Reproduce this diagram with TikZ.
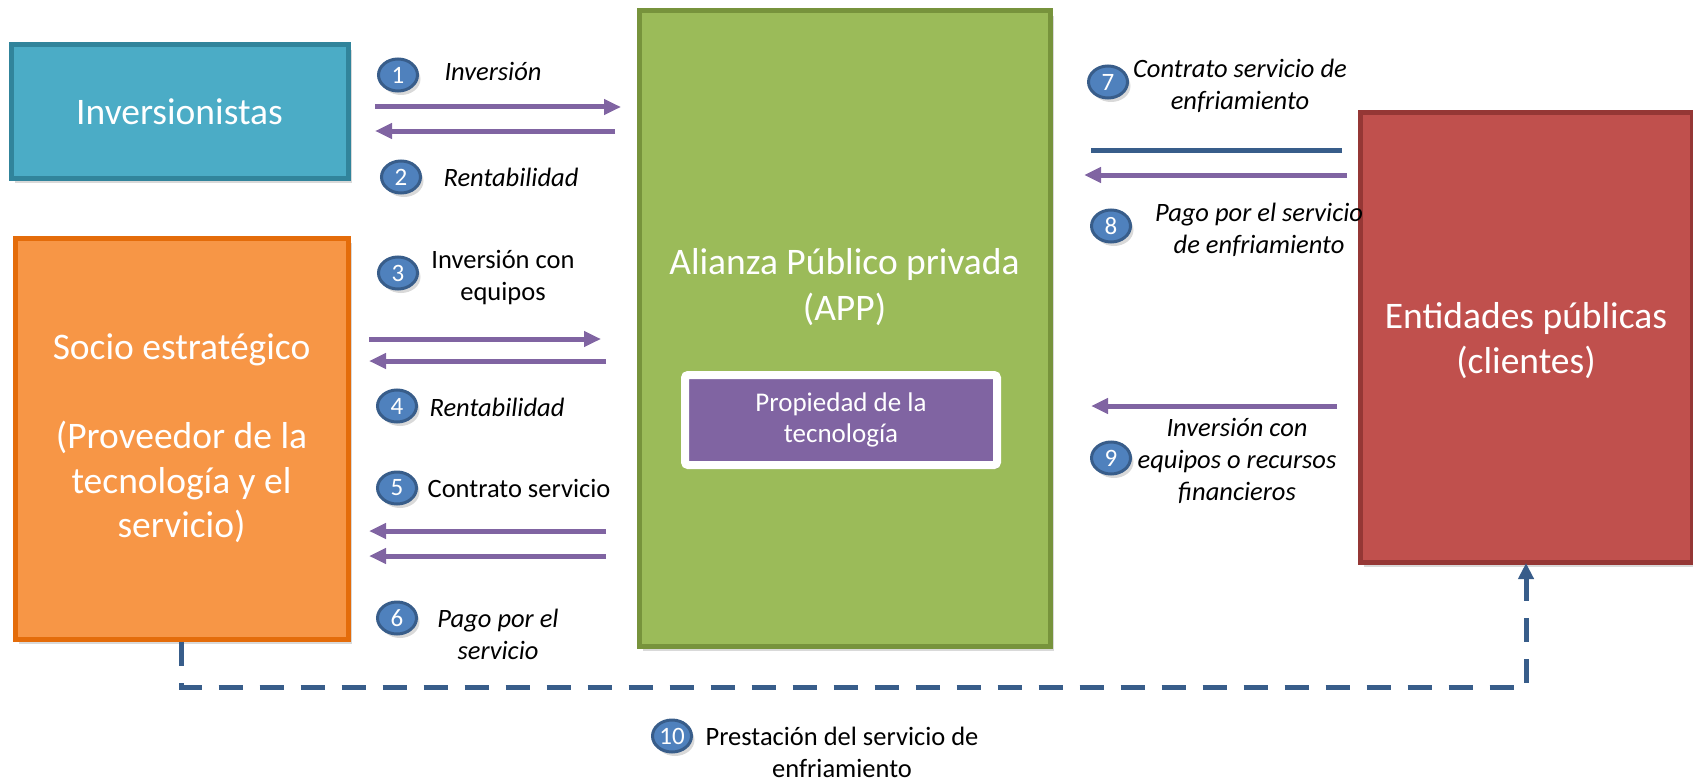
\documentclass[tikz,border=0pt]{standalone}
\usepackage{fontspec}
\setmainfont{Carlito}
\usetikzlibrary{arrows.meta,positioning,shapes.geometric,shadows}

\definecolor{invfill}{HTML}{4BACC6}
\definecolor{invline}{HTML}{31849B}
\definecolor{socfill}{HTML}{F79646}
\definecolor{socline}{HTML}{E46C0A}
\definecolor{appfill}{HTML}{9BBB59}
\definecolor{appline}{HTML}{77933C}
\definecolor{entfill}{HTML}{C0504D}
\definecolor{entline}{HTML}{953735}
\definecolor{techfill}{HTML}{8064A2}
\definecolor{numfill}{HTML}{4F81BD}
\definecolor{numline}{HTML}{385D8A}

\begin{document}
\begin{tikzpicture}[x=1pt,y=-1pt,
		main node/.style={rectangle,draw,line width=5pt,outer sep=0pt,text=white,align=center,
			font=\fontsize{37.5}{44.5}\selectfont,
			drop shadow={opacity=.3,shadow xshift=4pt,shadow yshift=-5pt}},
		big node/.style={text=white,align=center,font=\fontsize{37.5}{46.5}\selectfont},
		tech node/.style={rectangle,fill=techfill,draw=white,line width=8pt,rounded corners=3pt,
			text=white,align=center,font=\fontsize{27}{31}\selectfont,
			drop shadow={opacity=.3,shadow xshift=3pt,shadow yshift=-4pt}},
		num node/.style={ellipse,fill=numfill,draw=numline,line width=3pt,inner sep=0pt,
			minimum width=39pt,minimum height=32pt,text=white,font=\fontsize{25}{25}\selectfont,
			drop shadow={opacity=.3,shadow xshift=3pt,shadow yshift=-4pt}},
		lbl node/.style={align=center,font=\fontsize{26.5}{32}\selectfont},
		ital node/.style={align=center,font=\fontsize{26.5}{32}\selectfont\itshape},
		flow/.style={draw=techfill,line width=5pt,-{Triangle[length=17pt,width=15pt]}},
		plain flow/.style={draw=numline,line width=5pt},
		dash flow/.style={draw=numline,line width=5pt,dash pattern=on 24pt off 17pt,
			-{Triangle[length=16pt,width=15pt]}}]
	\useasboundingbox (0,0) rectangle (1693,781);
	\node[main node,fill=invfill,draw=invline,minimum width=337pt,minimum height=133pt] (0) at (179.5,111.5) {Inversionistas};
	\node[main node,fill=socfill,draw=socline,minimum width=333pt,minimum height=401pt] (1) [below=60pt of 0,xshift=2pt]
		{Socio estratégico\\[44.5pt](Proveedor de la\\tecnología y el\\servicio)};
	\node[main node,fill=appfill,draw=appline,minimum width=411pt,minimum height=635pt] (2) at (844.5,328.5) {};
	\node[main node,fill=entfill,draw=entline,minimum width=332pt,minimum height=449pt] (3) at (1526,337.5)
		{\\[-12pt]Entidades públicas\\(clientes)};
	\node[big node] (5) at (844.5,287) {Alianza Público privada\\(APP)};
	\node[tech node,minimum width=312pt,minimum height=90pt] (4) at (841,420) {Propiedad de la\\tecnología};
	%
	% Numbers and texts of the flows.
	\node[num node] (201) at (398,75) {1};
	\node[ital node] (101) at (493,71) {Inversión};
	\node[num node] (202) at (401,177) {2};
	\node[ital node] (102) at (511,177) {Rentabilidad};
	\node[num node] (203) at (398,273) {3};
	\node[lbl node] (103) at (503,278) {Inversión con\\equipos};
	\node[num node] (204) at (397,406) {4};
	\node[ital node] (104) at (497,407) {Rentabilidad};
	\node[num node] (205) at (397,488) {5};
	\node[lbl node] (105) at (519,488) {Contrato servicio};
	\node[num node] (206) at (397,618) {6};
	\node[ital node] (106) at (498,634) {Pago por el\\servicio};
	\node[num node] (207) at (1108,82) {7};
	\node[ital node] (107) at (1240,86) {Contrato servicio de\\enfriamiento};
	\node[num node] (208) at (1111,226) {8};
	\node[ital node] (108) at (1259,230) {Pago por el servicio\\de enfriamiento};
	\node[num node] (209) at (1111,458) {9};
	\node[ital node] (109) at (1237,461) {Inversión con\\equipos o recursos\\financieros};
	\node[num node] (210) at (672,736) {10};
	\node[lbl node] (110) at (842,752) {Prestación del servicio de\\enfriamiento};
	%
	% Flows between the investors and the APP.
	\draw[flow,shorten <=27pt,shorten >=18pt] ([yshift=4.5pt]0.east) -- ([yshift=4.5pt]0.east -| 2.west);
	\draw[flow,shorten <=24pt,shorten >=27pt] ([yshift=-19.5pt]0.east -| 2.west) -- ([yshift=-19.5pt]0.east);
	%
	% Flows between the partner and the APP.
	\draw[flow,shorten <=21pt,shorten >=38pt] ([yshift=99.5pt]1.east) -- ([yshift=99.5pt]1.east -| 2.west);
	\draw[flow,shorten <=33pt,shorten >=21pt] ([yshift=77.5pt]1.east -| 2.west) -- ([yshift=77.5pt]1.east);
	\draw[flow,shorten <=33pt,shorten >=21pt] ([yshift=-92.5pt]1.east -| 2.west) -- ([yshift=-92.5pt]1.east);
	\draw[flow,shorten <=33pt,shorten >=21pt] ([yshift=-117.5pt]1.east -| 2.west) -- ([yshift=-117.5pt]1.east);
	%
	% Flows between the clients and the APP.
	\draw[plain flow,shorten <=18pt,shorten >=41pt] ([yshift=187.5pt]3.west) -- ([yshift=187.5pt]3.west -| 2.east);
	\draw[flow,shorten <=13pt,shorten >=34pt] ([yshift=162.5pt]3.west) -- ([yshift=162.5pt]3.west -| 2.east);
	\draw[flow,shorten <=23pt,shorten >=41pt] ([yshift=-68.5pt]3.west) -- ([yshift=-68.5pt]3.west -| 2.east);
	%
	% Service from the partner to the clients.
	\draw[dash flow,shorten <=3pt,shorten >=1pt] (1.south) -- ++(0,48) -| (3.south);
\end{tikzpicture}
\end{document}
